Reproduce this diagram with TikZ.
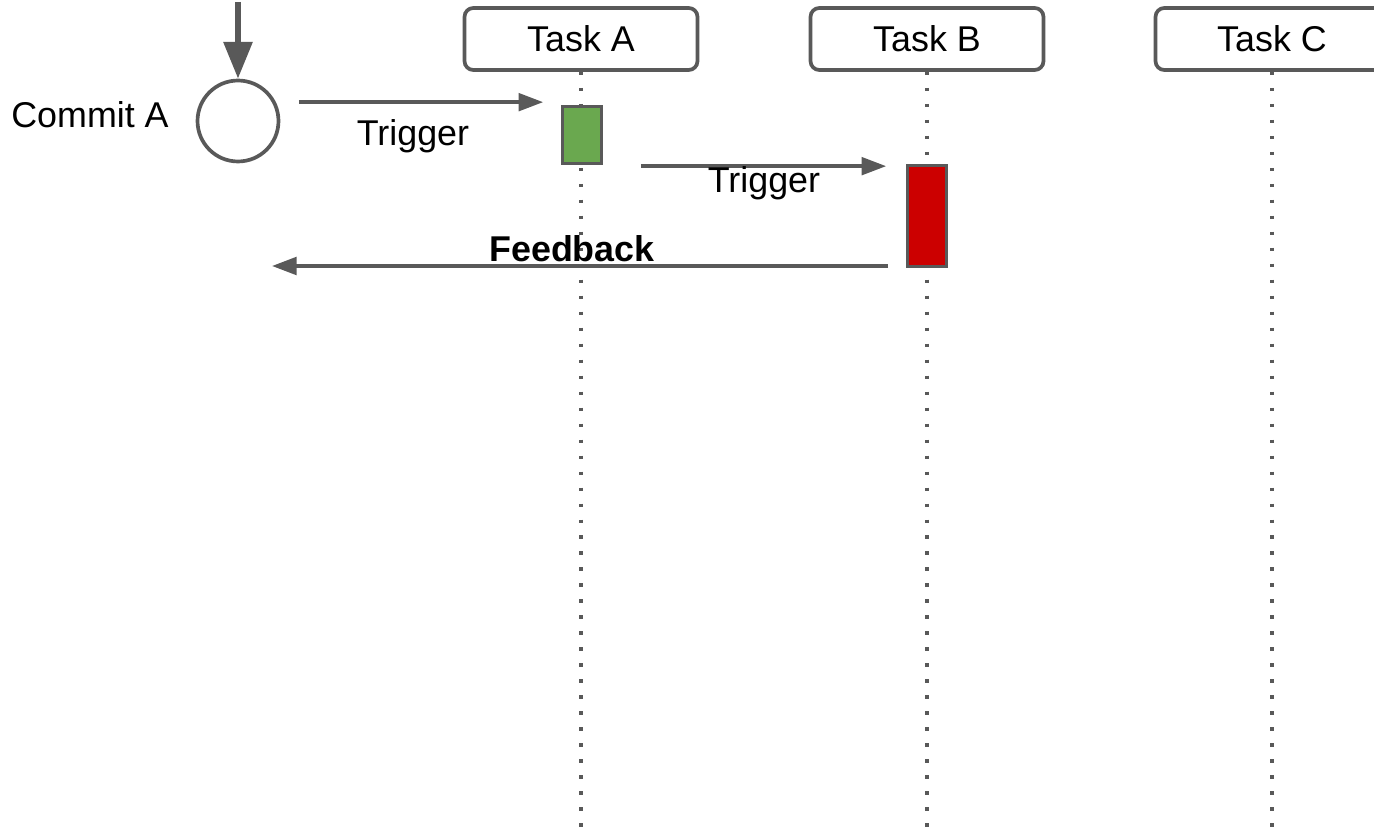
\documentclass[tikz,border=0pt]{standalone}
\usepackage{fontspec}
\setmainfont{Liberation Sans}
\usetikzlibrary{arrows.meta,positioning}
\definecolor{linegray}{HTML}{595959}
\definecolor{okgreen}{HTML}{6AA84F}
\definecolor{failred}{HTML}{CC0000}

\begin{document}
\begin{tikzpicture}[
    x=0.02cm, y=-0.02cm,
    font=\fontsize{20.4}{24}\selectfont,
    task/.style={rectangle, rounded corners=5pt, draw=linegray, line width=2.1pt, minimum width=4.66cm, minimum height=1.24cm},
    lifeline/.style={draw=linegray, line width=2pt, dash pattern=on 2pt off 7.1pt},
    run/.style={rectangle, draw=linegray, line width=2.1pt, minimum width=0.78cm, inner sep=0pt},
    event/.style={circle, draw=linegray, line width=2.1pt, minimum size=1.62cm, inner sep=0pt},
    msg/.style={draw=linegray, line width=2pt, -{Triangle[length=14pt,width=10pt]}},
    msglabel/.style={anchor=base, inner sep=0pt}
  ]
  \useasboundingbox (0,0) rectangle (1374,831);

  % Tasks
  \node[task] (TA) at (581,39) {Task A};
  \node[task] (TB) at (927,39) {Task B};
  \node[task] (TC) at (1272,39) {Task C};

  % Lifelines
  \coordinate (bottom) at (0,828);
  \foreach \t in {A,B,C}
    \draw[lifeline] (T\t.south) -- (T\t.south |- bottom);

  % Runs
  \node[run, fill=okgreen, minimum height=1.14cm] (runA) at (582,135) {};
  \node[run, fill=failred, minimum height=2.02cm] (runB) at (927,216) {};

  % Commit
  \node[event] (commit) at (238,121) {};
  \node[msglabel] (commitLabel) at (90,128) {Commit A};
  \coordinate (entry) at (238,2);
  \draw[draw=linegray, line width=3.4pt, -{Triangle[length=21pt,width=16pt]}] (entry) -- (commit);

  % Messages
  \draw[msg, shorten <=0.37cm, shorten >=0.35cm]
    ([yshift=0.05cm]commit.east |- runA.north) -- ([yshift=0.05cm]runA.north west);
  \node[msglabel] (trig1) at (413,146) {Trigger};

  \draw[msg, shorten <=0.75cm, shorten >=0.39cm]
    ([yshift=-0.05cm]runA.east |- runB.north) -- ([yshift=-0.05cm]runB.north west);
  \node[msglabel] (trig2) at (764,193) {Trigger};

  \coordinate (fb) at (272,266);
  \draw[msg, shorten <=0.35cm] (runB.south west |- fb) -- (fb);
  \node[msglabel, font=\fontsize{20.4}{24}\selectfont\bfseries] (feedback) at (572,262) {Feedback};

\end{tikzpicture}
\end{document}
